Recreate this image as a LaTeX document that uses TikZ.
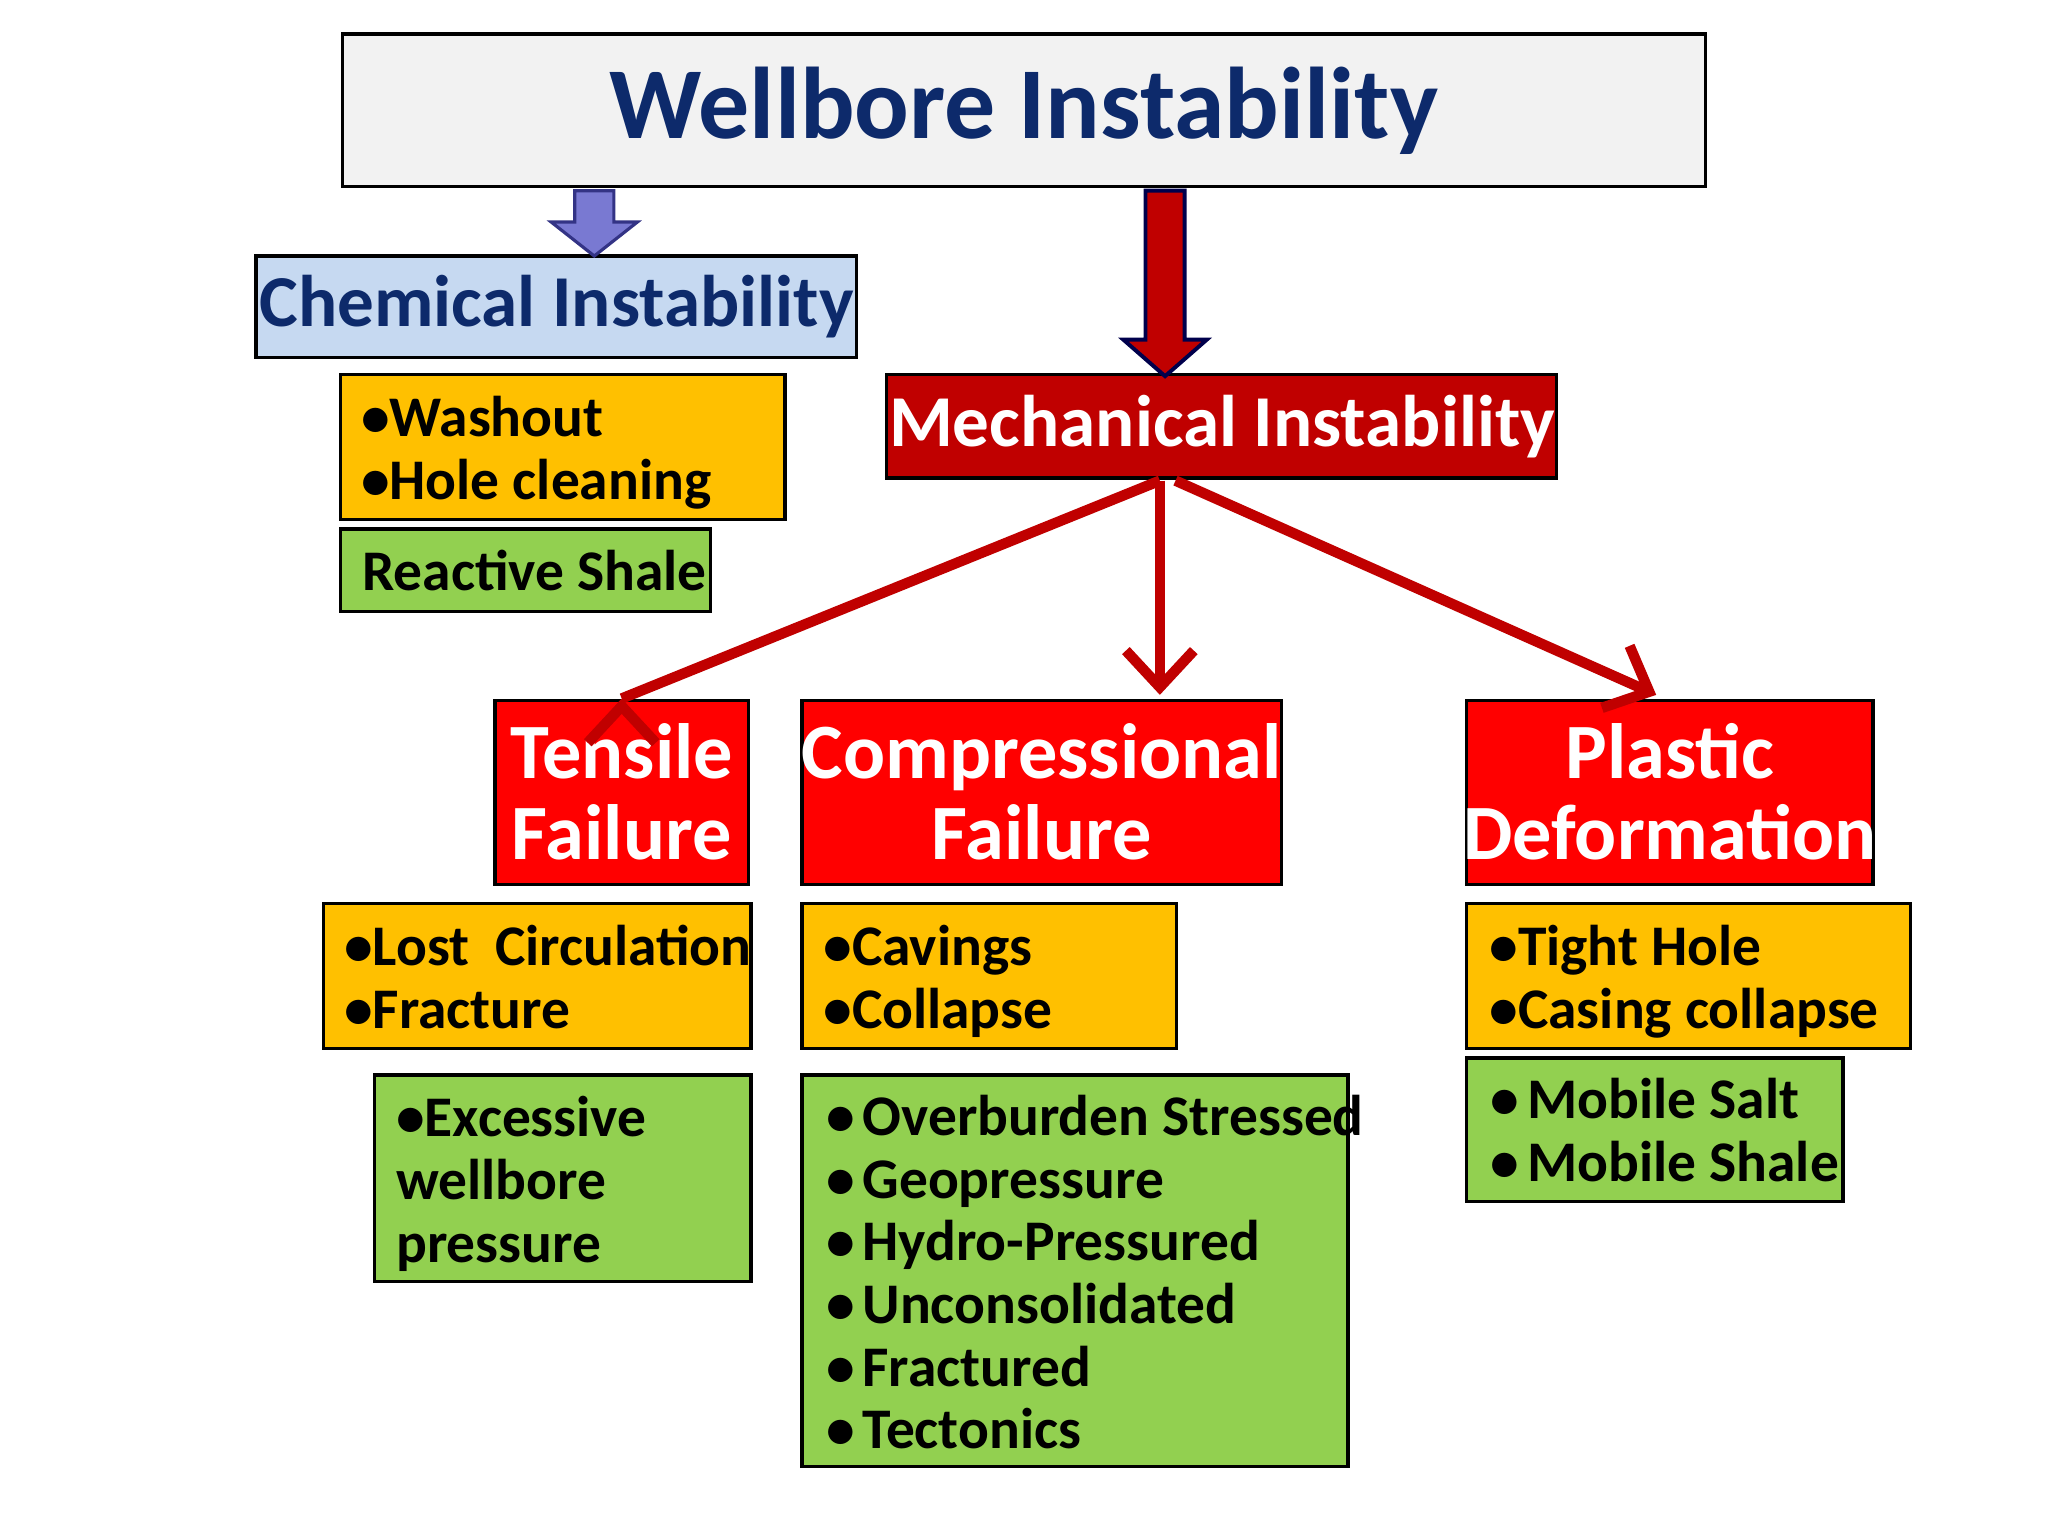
\documentclass[tikz,border=0pt]{standalone}
\usepackage{fontspec}
\setmainfont{Carlito}
\usetikzlibrary{arrows.meta}
\definecolor{navy}{HTML}{0D2A6B}
\definecolor{orng}{HTML}{FFC000}
\definecolor{grn}{HTML}{92D050}
\definecolor{dred}{HTML}{C00000}
\definecolor{lblue}{HTML}{C6D9F1}
\tikzset{
 boxbase/.style={draw=black, line width=1.2pt, inner sep=0pt},
 titlebox/.style={boxbase, fill=black!5},
 chembox/.style={boxbase, fill=lblue},
 orbox/.style={boxbase, fill=orng},
 grbox/.style={boxbase, fill=grn},
 mechbox/.style={boxbase, fill=dred},
 failbox/.style={boxbase, fill=red},
 listtxt/.style={anchor=north west, align=left, inner sep=0pt, font=\fontsize{22}{24}\selectfont\bfseries},
 redline/.style={draw=dred, line width=4pt, -{Straight Barb[length=14pt, width=26pt, line width=4pt]}},
}
\newcommand\bx[6]{\node[#6, minimum width={(#4-#2)*0.5pt}, minimum height={(#5-#3)*0.5pt}] (#1) at ({(#2+#4)/2},{(#3+#5)/2}) {};}
\newcommand\bl{\makebox[14pt][l]{•}}
\begin{document}
\begin{tikzpicture}[x=0.5pt,y=-0.5pt]
\useasboundingbox[fill=white] (0,0) rectangle (1568,1176);
\bx{title}{262}{26}{1306}{143}{titlebox}
\node[text=navy, font=\fontsize{39}{39}\selectfont\bfseries] at (title) {Wellbore Instability};
\bx{chem}{196}{196}{656}{274}{chembox}
\node[text=navy, font=\fontsize{28}{28}\selectfont\bfseries] at (chem) {Chemical Instability};
\bx{wash}{261}{287}{601}{398}{orbox}
\node[listtxt] at (276,303) {•Washout\\•Hole cleaning};
\bx{react}{261}{405}{544}{468}{grbox}
\node[listtxt, anchor=west] at (277,437) {Reactive Shale};
\bx{mech}{679}{287}{1192}{366}{mechbox}
\node[text=white, font=\fontsize{28}{28}\selectfont\bfseries] at (mech) {Mechanical Instability};
\bx{tens}{379}{536}{573}{677}{failbox}
\node[text=white, align=center, font=\fontsize{30}{31}\selectfont\bfseries] at (tens) {Tensile\\Failure};
\bx{comp}{614}{536}{981}{677}{failbox}
\node[text=white, align=center, font=\fontsize{30}{31}\selectfont\bfseries] at (comp) {Compressional\\Failure};
\bx{plas}{1123}{536}{1434}{677}{failbox}
\node[text=white, align=center, font=\fontsize{30}{31}\selectfont\bfseries] at (plas) {Plastic\\Deformation};
\bx{lost}{248}{692}{575}{803}{orbox}
\node[listtxt] at (263,708) {•Lost\ \ Circulation\\•Fracture};
\bx{exc}{287}{823}{575}{981}{grbox}
\node[listtxt] at (303,839) {•Excessive\\wellbore\\pressure};
\bx{cav}{614}{692}{901}{803}{orbox}
\node[listtxt] at (630,708) {•Cavings\\•Collapse};
\bx{over}{614}{823}{1032}{1123}{grbox}
\node[listtxt] at (632,838) {\bl Overburden Stressed\\\bl Geopressure\\\bl Hydro-Pressured\\\bl Unconsolidated\\\bl Fractured\\\bl Tectonics};
\bx{tight}{1123}{692}{1463}{803}{orbox}
\node[listtxt] at (1140,708) {•Tight Hole\\•Casing collapse};
\bx{mob}{1123}{810}{1411}{920}{grbox}
\node[listtxt] at (1141,825) {\bl Mobile Salt\\\bl Mobile Shale};
% block arrows
\draw[draw=blue!40!black!80, fill=blue!45!cyan!30!black!10, line width=1.2pt, fill=blue!50!gray!70]
 (440,146) -- (470,146) -- (470,170) -- (488,170) -- (455,196) -- (422,170) -- (440,170) -- cycle;
\draw[draw=blue!30!black, fill=dred, line width=1.5pt]
 (877,146) -- (907,146) -- (907,260) -- (924,260) -- (892,288) -- (860,260) -- (877,260) -- cycle;
% red arrows
\coordinate (m1) at (888,368);
\coordinate (m2) at (900,368);
\draw[redline] (m1) -- (tens.north) ++(0,0);
\draw[redline] (m1) -- (888,532);
\draw[redline] (m2) -- (1268,532);
\end{tikzpicture}
\end{document}
